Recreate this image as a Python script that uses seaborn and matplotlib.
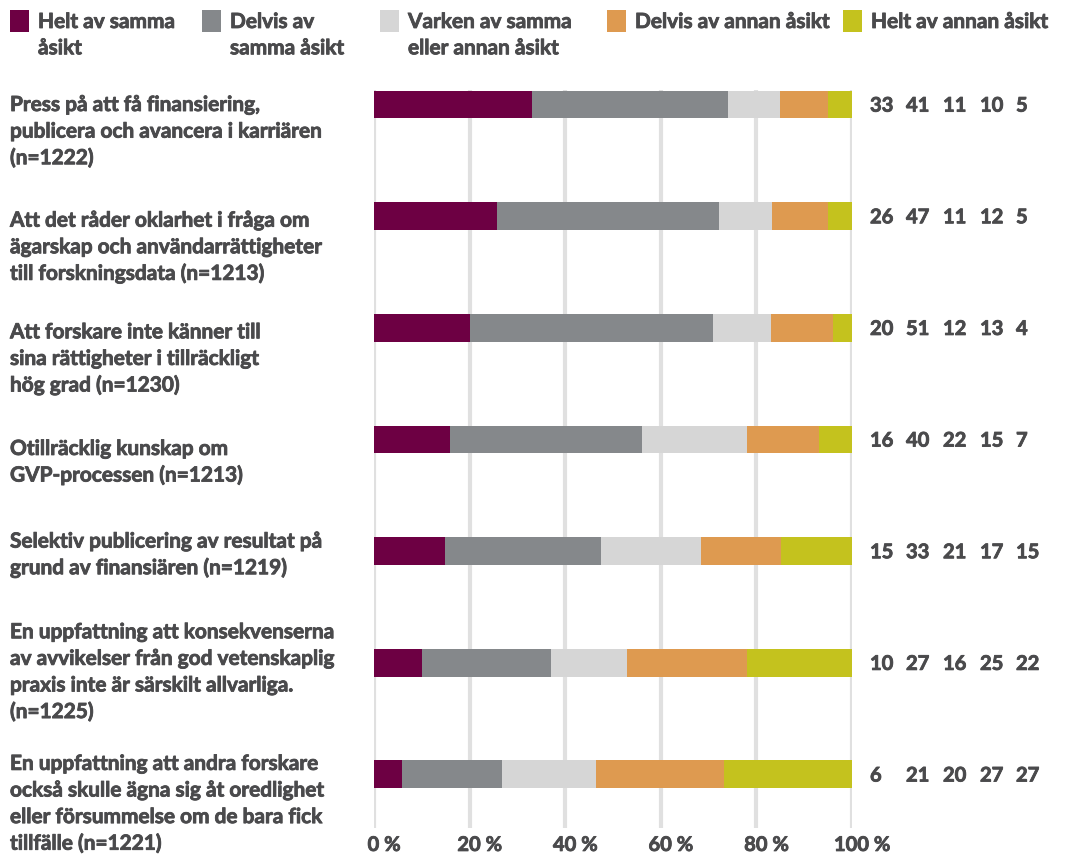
import matplotlib
matplotlib.use("Agg")
import matplotlib.pyplot as plt
import matplotlib.patheffects as pe
import seaborn as sns
import numpy as np
import pandas as pd
from matplotlib.patches import Rectangle
from matplotlib.transforms import ScaledTranslation, blended_transform_factory

categories = [
    "Press på att få finansiering,\npublicera och avancera i karriären\n(n=1222)",
    "Att det råder oklarhet i fråga om\nägarskap och användarrättigheter\ntill forskningsdata (n=1213)",
    "Att forskare inte känner till\nsina rättigheter i tillräckligt\nhög grad (n=1230)",
    "Otillräcklig kunskap om\nGVP-processen (n=1213)",
    "Selektiv publicering av resultat på\ngrund av finansiären (n=1219)",
    "En uppfattning att konsekvenserna\nav avvikelser från god vetenskaplig\npraxis inte är särskilt allvarliga.\n(n=1225)",
    "En uppfattning att andra forskare\nockså skulle ägna sig åt oredlighet\neller försummelse om de bara fick\ntillfälle (n=1221)",
]
series_names = ["Helt av samma\nåsikt", "Delvis av\nsamma åsikt", "Varken av samma\neller annan åsikt",
                "Delvis av annan åsikt", "Helt av annan åsikt"]
helt_samma = [33, 26, 20, 16, 15, 10, 6]
delvis_samma = [41, 47, 51, 40, 33, 27, 21]
varken = [11, 11, 12, 22, 21, 16, 20]
delvis_annan = [10, 12, 13, 15, 17, 25, 27]
helt_annan = [5, 5, 4, 7, 15, 22, 27]
x_ticks = [0, 20, 40, 60, 80, 100]
x_tick_labels = ["0 %", "20 %", "40 %", "60 %", "80 %", "100 %"]

colors = ["#6d0043", "#85888b", "#d6d6d6", "#de9a50", "#c4c21e"]
text_color = "#4a4a4c"
FONT = "Lato"
FS = 15
heavier = [pe.withStroke(linewidth=0.6, foreground=text_color)]

sns.set_theme(style="white")
plt.rcParams["font.family"] = [FONT, "DejaVu Sans"]
plt.rcParams["font.weight"] = "bold"

series = [helt_samma, delvis_samma, varken, delvis_annan, helt_annan]
raw = np.array(series, dtype=float)
pct = raw / raw.sum(axis=0) * 100
cum = np.cumsum(pct, axis=0)

W, H = 1073, 855
fig = plt.figure(figsize=(W / 100, H / 100), dpi=100)
ax_top, ax_bot = 90, 828
ax = fig.add_axes([374 / W, 1 - ax_bot / H, 478 / W, (ax_bot - ax_top) / H])

# stacked bars: draw cumulative totals from the last segment backwards
for k in range(len(series) - 1, -1, -1):
    df = pd.DataFrame({"cat": categories, "val": cum[k]})
    sns.barplot(data=df, x="val", y="cat", order=categories, orient="h",
                color=colors[k], width=0.25, saturation=1, ax=ax, zorder=3,
                linewidth=0)

ax.set_xlim(0, 100)
ax.set_ylim(6.48, -0.13)
ax.set_xticks(x_ticks)
ax.set_xticklabels(x_tick_labels)
ax.set_yticks([])
ax.set_xlabel("")
ax.set_ylabel("")
for s in ax.spines.values():
    s.set_visible(False)
for xv in x_ticks:
    ax.axvline(xv, color="#e0e0e0", lw=3, zorder=1)
ax.tick_params(axis="x", length=0, pad=5, labelsize=14.5, labelcolor=text_color)
off = ScaledTranslation(10 / 100, 0, fig.dpi_scale_trans)
for lab in ax.get_xticklabels():
    lab.set_fontweight("bold")
    lab.set_path_effects(heavier)
    lab.set_transform(lab.get_transform() + off)

# data units per pixel in y
ppu = (ax_bot - ax_top) / (6.48 + 0.13)
line_step = 26.6 / ppu
base_shift = 7.5 / ppu  # baseline sits below cap centre

# category labels on the left, one line at a time
tr_left = blended_transform_factory(fig.transFigure, ax.transData)
label_offsets_px = [-1, 3, 3, 8, -11, -32, -12]
for i, cat in enumerate(categories):
    for j, line in enumerate(cat.split("\n")):
        y = i + label_offsets_px[i] / ppu + j * line_step + base_shift
        ax.text(10 / W, y, line, transform=tr_left, ha="left",
                va="baseline", fontsize=FS, fontweight="bold",
                color=text_color, path_effects=heavier)

# numeric values on the right
col_px = [870, 906, 943, 980, 1016]
for k in range(len(series)):
    for i in range(len(categories)):
        ax.text(col_px[k] / W, i + base_shift * 0.95, str(series[k][i]),
                transform=tr_left, ha="left", va="baseline", fontsize=14.5,
                fontweight="bold", color=text_color, path_effects=heavier)

# legend
sq_x = [10, 202, 380, 607, 843]
for k, name in enumerate(series_names):
    fig.add_artist(Rectangle((sq_x[k] / W, 1 - 32 / H), 19 / W, 22 / H,
                             transform=fig.transFigure, facecolor=colors[k],
                             edgecolor="none"))
    for j, line in enumerate(name.split("\n")):
        fig.text((sq_x[k] + 28) / W, 1 - (28 + j * 26.3) / H, line, ha="left",
                 va="baseline", fontsize=FS, fontweight="bold",
                 color=text_color, path_effects=heavier)

fig.savefig("out.png", dpi=100)
